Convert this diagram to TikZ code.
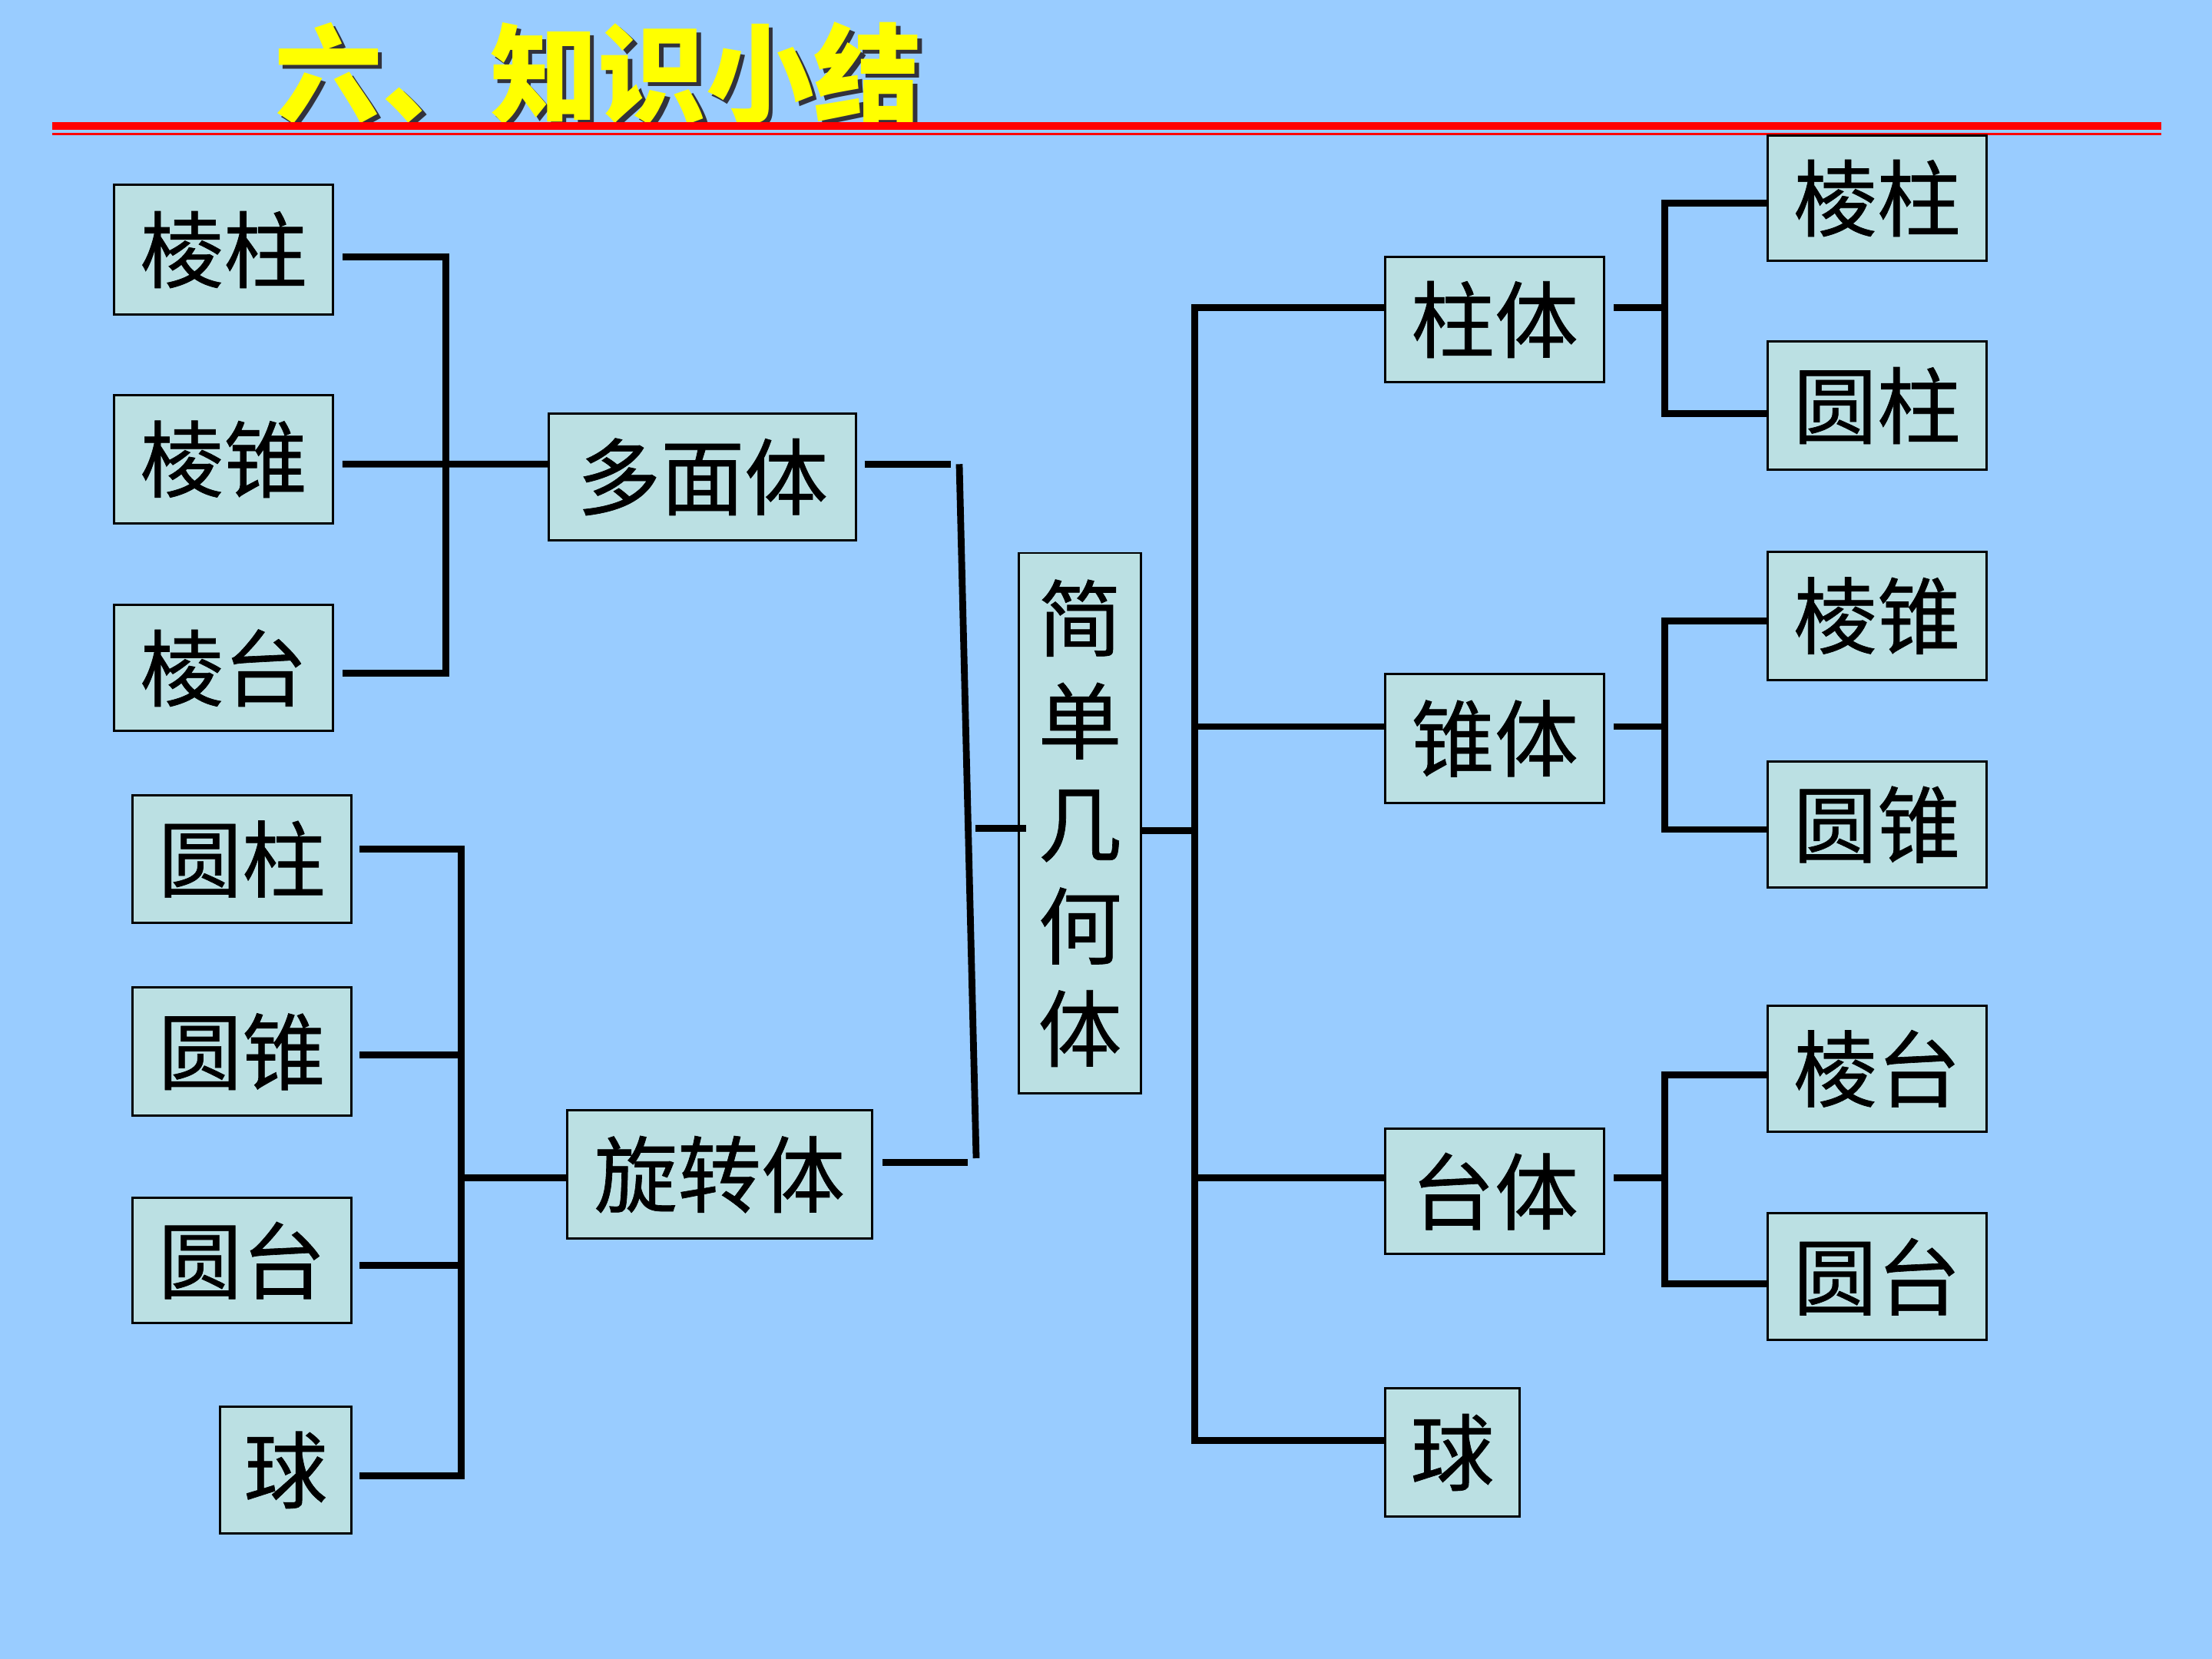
\documentclass[tikz,border=0pt]{standalone}
\usepackage{fontspec}
\newfontfamily\cjk[FakeBold=0.6]{Noto Sans CJK SC}
\newfontfamily\cjkt{Noto Sans CJK SC}
\usetikzlibrary{calc}
\definecolor{bg}{RGB}{153,204,255}
\definecolor{boxc}{RGB}{187,224,227}
\definecolor{ttl}{RGB}{255,255,0}
\definecolor{shd}{RGB}{50,50,60}
\def\pxu{0.018367cm}
\begin{document}
\begin{tikzpicture}[x=0.018367cm,y=-0.018367cm,
  bx/.style={draw=black, line width=0.85pt, fill=boxc, inner sep=0pt, align=center,
    font=\cjk\fontsize{31}{38}\selectfont},
  sz/.style 2 args={minimum width={#1*\pxu}, minimum height={#2*\pxu}},
  ln/.style={line width=2.5pt},
  ttlstyle/.style={font=\cjkt\bfseries\fontsize{40}{40}\selectfont, inner sep=0pt}]
\fill[bg] (0,0) rectangle (1568,1176);
\useasboundingbox (0,0) rectangle (1568,1176);

% title
\node[ttlstyle, text=shd] (titleshadow) at (427,55) {六、知识小结};
\node[ttlstyle, text=ttl] (title) at (424,52) {六、知识小结};
\coordinate (rl) at (37,89.5);
\coordinate (rr) at (1532,89.5);
\draw[red, line width=2.9pt] (rl) -- (rr);
\draw[red, line width=0.9pt] ($(rl)+(0,5.5)$) -- ($(rr)+(0,5.5)$);

% left group 1
\node[bx, sz={155}{92}] (L1) at (158.5,177) {棱柱};
\node[bx, sz={155}{91}] (L2) at (158.5,325.5) {棱锥};
\node[bx, sz={155}{89}] (L3) at (158.5,473.5) {棱台};
\node[bx, sz={218}{90}] (P) at (498,338) {多面体};
% left group 2
\node[bx, sz={155}{90}] (R1) at (171.5,609) {圆柱};
\node[bx, sz={155}{91}] (R2) at (171.5,745.5) {圆锥};
\node[bx, sz={155}{89}] (R3) at (171.5,893.5) {圆台};
\node[bx, sz={93}{90}] (R4) at (202.5,1042) {球};
\node[bx, sz={216}{91}] (X) at (510,832.5) {旋转体};
% centre
\node[bx, sz={87}{383}] (J) at (765.5,583.5) {简\\单\\几\\何\\体};
% right middle
\node[bx, sz={155}{89}] (A) at (1059.5,226.5) {柱体};
\node[bx, sz={155}{91}] (B) at (1059.5,523.5) {锥体};
\node[bx, sz={155}{89}] (C) at (1059.5,844.5) {台体};
\node[bx, sz={95}{91}] (D) at (1029.5,1029.5) {球};
% right leaves
\node[bx, sz={155}{89}] (A1) at (1330.5,140.5) {棱柱};
\node[bx, sz={155}{91}] (A2) at (1330.5,287.5) {圆柱};
\node[bx, sz={155}{91}] (B1) at (1330.5,436.5) {棱锥};
\node[bx, sz={155}{89}] (B2) at (1330.5,584.5) {圆锥};
\node[bx, sz={155}{89}] (C1) at (1330.5,757.5) {棱台};
\node[bx, sz={155}{90}] (C2) at (1330.5,905) {圆台};

\coordinate (sa) at (316,0);
\coordinate (sb) at (327,0);
\coordinate (sc) at (847,0);
\coordinate (sd) at (1180,0);
\coordinate (t1) at (680,329);
\coordinate (t2) at (692,821);

% group 1 bracket
\draw[ln] ($(L1.east)+(6,5)$) -- ($(L1.east -| sa)+(0,5)$) -- ($(L3.east -| sa)+(0,3.5)$) -- ($(L3.east)+(6,3.5)$);
\draw[ln] ($(L2.east)+(6,3.5)$) -- ($(P.west)+(0,-9)$);
% group 2 bracket
\draw[ln] ($(R1.east)+(5,-7)$) -- ($(R1.east -| sb)+(0,-7)$) -- ($(R4.east -| sb)+(0,4)$) -- ($(R4.east)+(5,4)$);
\draw[ln] ($(R2.east)+(5,2.5)$) -- ($(R2.east -| sb)+(0,2.5)$);
\draw[ln] ($(R3.east)+(5,3.5)$) -- ($(R3.east -| sb)+(0,3.5)$);
\draw[ln] ($(X.west)+(0,2.5)$) -- ($(X.west -| sb)+(0,2.5)$);
% joining to centre
\draw[ln] ($(P.east)+(5,-9)$) -- ($(t1)+(-6,0)$);
\draw[ln] (t1) -- (t2);
\draw[ln] ($(X.east)+(7,-8.5)$) -- ($(t2)+(-6,3)$);
\draw[ln] ($(J.west)+(-30,3.5)$) -- ($(J.west)+(6,3.5)$);
% right spine
\draw[ln] ($(J.east)+(0,5.5)$) -- ($(J.east -| sc)+(0,5.5)$);
\draw[ln] ($(A.west)+(0,-8.5)$) -- ($(A.west -| sc)+(0,-8.5)$) -- ($(D.west -| sc)+(0,-8.5)$) -- ($(D.west)+(0,-8.5)$);
\draw[ln] ($(B.west)+(0,-8.5)$) -- ($(B.west -| sc)+(0,-8.5)$);
\draw[ln] ($(C.west)+(0,-9.5)$) -- ($(C.west -| sc)+(0,-9.5)$);
% right brackets
\draw[ln] ($(A.east)+(6,-8.5)$) -- ($(A.east -| sd)+(0,-8.5)$);
\draw[ln] ($(A1.west)+(0,3.5)$) -- ($(A1.west -| sd)+(0,3.5)$) -- ($(A2.west -| sd)+(0,5.5)$) -- ($(A2.west)+(0,5.5)$);
\draw[ln] ($(B.east)+(6,-8.5)$) -- ($(B.east -| sd)+(0,-8.5)$);
\draw[ln] ($(B1.west)+(0,3.5)$) -- ($(B1.west -| sd)+(0,3.5)$) -- ($(B2.west -| sd)+(0,3.5)$) -- ($(B2.west)+(0,3.5)$);
\draw[ln] ($(C.east)+(6,-9.5)$) -- ($(C.east -| sd)+(0,-9.5)$);
\draw[ln] ($(C1.west)+(0,4.5)$) -- ($(C1.west -| sd)+(0,4.5)$) -- ($(C2.west -| sd)+(0,5)$) -- ($(C2.west)+(0,5)$);
\end{tikzpicture}
\end{document}
